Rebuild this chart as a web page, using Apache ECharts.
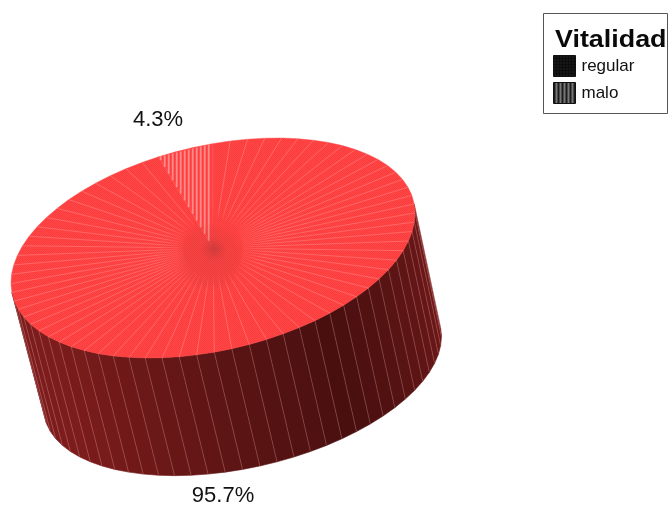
<!DOCTYPE html>
<html>
<head>
<meta charset="utf-8">
<style>html,body{margin:0;padding:0;background:#fff}#main{width:671px;height:509px}</style>
<script src="https://cdn.jsdelivr.net/npm/echarts@6/dist/echarts.min.js"></script>
</head>
<body>
<div id="main"></div>
<script>
// Values of the pie, in percent
var categories = ['regular', 'malo'];
var shares = [95.7, 4.3];
var legendTitle = 'Vitalidad';

// Tiled swatch fills for the legend
function tile(w, h, paint) {
  var c = document.createElement('canvas');
  c.width = w; c.height = h;
  paint(c.getContext('2d'));
  return { image: c, repeat: 'repeat' };
}
var dottedFill = tile(3, 3, function (g) {
  g.fillStyle = '#0c0c0c'; g.fillRect(0, 0, 3, 3);
  g.fillStyle = '#3a3a3a'; g.fillRect(1, 1, 1, 1);
});
var stripedFill = tile(4, 2, function (g) {
  g.fillStyle = '#777'; g.fillRect(0, 0, 4, 2);
  g.fillStyle = '#1c1c1c'; g.fillRect(0, 0, 2, 2);
});
// Fine dither over the top face
var topFill = tile(2, 2, function (g) {
  g.fillStyle = '#ff4646'; g.fillRect(0, 0, 2, 2);
  g.fillStyle = '#fc3d3d'; g.fillRect(0, 0, 1, 1); g.fillRect(1, 1, 1, 1);
});

// Projection of the tilted disc
var tilt = -13 * Math.PI / 180;
var axisA = [Math.cos(tilt), Math.sin(tilt)];
var axisB = [-Math.sin(tilt), Math.cos(tilt)];
var topFace = { cx: 213, cy: 248, a: 206, b: 102.4 };
var baseFace = { cx: 242.5, cy: 372, a: 203, b: 95.5 };
var facetDeg = 5;
var backAngle = -91.3;      // the small slice is centred here

function project(face, deg) {
  var t = deg * Math.PI / 180;
  var u = face.a * Math.cos(t), v = face.b * Math.sin(t);
  return [face.cx + u * axisA[0] + v * axisB[0], face.cy + u * axisA[1] + v * axisB[1]];
}
function sliceRange(index) {
  var total = shares.reduce(function (s, v) { return s + v; }, 0);
  var small = shares[1] / total * 360;
  if (index === 1) return [backAngle - small / 2, backAngle + small / 2];
  return [backAngle + small / 2, backAngle + 360 - small / 2];
}
function lerpRgb(p, q, k) {
  return 'rgb(' + p.map(function (c, i) { return Math.round(c + (q[i] - c) * k); }).join(',') + ')';
}
// Side colour: darkest right of front, lifting towards both silhouette edges
function sideColour(deg) {
  var d = deg;
  while (d > 180) d -= 360;
  while (d < -180) d += 360;
  var k = Math.min(1, Math.abs(d - 62) / (d > 62 ? 85 : 75));
  return lerpRgb([72, 15, 15], [124, 28, 28], k);
}

function buildSlice(index) {
  var range = sliceRange(index);
  var steps = Math.max(1, Math.round((range[1] - range[0]) / facetDeg));
  var step = (range[1] - range[0]) / steps;
  var kids = [], i, a0, a1;
  var rim = [];
  for (i = 0; i <= steps; i++) rim.push(range[0] + i * step);

  // Side wall, visible facets only
  for (i = 0; i < steps; i++) {
    a0 = rim[i]; a1 = rim[i + 1];
    var p = [project(topFace, a0), project(topFace, a1), project(baseFace, a1), project(baseFace, a0)];
    var area = 0;
    for (var n = 0; n < 4; n++) {
      var m = (n + 1) % 4;
      area += p[n][0] * p[m][1] - p[m][0] * p[n][1];
    }
    if (area > 0) continue;
    var col = sideColour((a0 + a1) / 2);
    kids.push({ type: 'polygon', shape: { points: p }, style: { fill: col, stroke: col, lineWidth: 0.6 } });
    kids.push({ type: 'line', shape: { x1: p[0][0], y1: p[0][1], x2: p[3][0], y2: p[3][1] },
      style: { stroke: 'rgba(255,190,190,0.24)', lineWidth: 1 } });
  }

  // Top face
  var outline = [[topFace.cx, topFace.cy]];
  rim.forEach(function (a) { outline.push(project(topFace, a)); });
  kids.push({ type: 'polygon', shape: { points: outline }, style: { fill: topFill, stroke: '#fb4040', lineWidth: 0.4 } });

  if (index === 0) {
    // Spokes on the large slice, softened just where they meet the hub
    rim.forEach(function (a) {
      var e = project(topFace, a);
      var dx = e[0] - topFace.cx, dy = e[1] - topFace.cy;
      var inner = 30 / Math.sqrt(dx * dx + dy * dy);
      var sx = topFace.cx + dx * inner, sy = topFace.cy + dy * inner;
      kids.push({ type: 'line', shape: { x1: sx, y1: sy, x2: e[0], y2: e[1] }, style: {
        lineWidth: 0.9,
        stroke: { type: 'linear', global: true, x: sx, y: sy, x2: e[0], y2: e[1], colorStops: [
          { offset: 0, color: 'rgba(255,150,150,0.1)' },
          { offset: 0.15, color: 'rgba(255,150,150,0.45)' },
          { offset: 1, color: 'rgba(255,150,150,0.5)' }] }
      } });
    });
  } else {
    // Vertical stripes clipped to the wedge
    var eL = project(topFace, range[0]), eR = project(topFace, range[1]);
    for (var x = eL[0] + 2; x < eR[0]; x += 4) {
      var yEdge = eL[1] + (eR[1] - eL[1]) * (x - eL[0]) / (eR[0] - eL[0]);
      var yInner = topFace.cy + (eL[1] - topFace.cy) * (x - topFace.cx) / (eL[0] - topFace.cx);
      kids.push({ type: 'line', shape: { x1: x, y1: yEdge, x2: x, y2: yInner },
        style: { stroke: 'rgba(255,180,180,0.65)', lineWidth: 1.8 } });
    }
  }
  return { type: 'group', children: kids };
}

// Dark smudge at the hub, drawn above both slices
function buildHub() {
  return { type: 'group', children: [
    { type: 'rect', shape: { x: 178, y: 222, width: 64, height: 70, r: 24 }, style: {
      fill: { type: 'radial', x: 0.5, y: 0.5, r: 0.55, colorStops: [
        { offset: 0, color: 'rgba(170,55,55,0.16)' },
        { offset: 0.75, color: 'rgba(170,55,55,0.12)' },
        { offset: 1, color: 'rgba(170,55,55,0)' }] } }, silent: true },
    { type: 'ellipse', shape: { cx: 214, cy: 249, rx: 26, ry: 13 }, style: {
      fill: { type: 'radial', x: 0.5, y: 0.5, r: 0.5, colorStops: [
        { offset: 0, color: 'rgba(130,50,50,0.32)' },
        { offset: 1, color: 'rgba(170,50,50,0)' }] } }, silent: true }
  ] };
}

var labelStyle = { font: '22px "Liberation Sans", Arial, sans-serif', fill: '#111', align: 'center', verticalAlign: 'middle' };

var option = {
  animation: false,
  backgroundColor: '#ffffff',
  legend: {
    orient: 'vertical', left: 548, top: 50, itemWidth: 22, itemHeight: 21, itemGap: 5,
    selectedMode: false,
    textStyle: { fontFamily: '"Liberation Sans", Arial, sans-serif', fontSize: 17, color: '#111', padding: [0, 0, 0, 1] },
    data: [
      { name: categories[0], icon: 'rect', itemStyle: { color: dottedFill, borderColor: '#111', borderWidth: 1 } },
      { name: categories[1], icon: 'rect', itemStyle: { color: stripedFill, borderColor: '#111', borderWidth: 1 } }
    ]
  },
  graphic: [
    { type: 'rect', z: -1, shape: { x: 543.5, y: 13.5, width: 124, height: 100 }, style: { fill: '#fff', stroke: '#555', lineWidth: 1 } },
    { type: 'text', x: 555, y: 28, scaleX: 1.12, style: { text: legendTitle, font: 'bold 24px "Liberation Sans", Arial, sans-serif', fill: '#0a0a0a' } }
  ],
  series: [
    {
      name: categories[0], type: 'custom', coordinateSystem: 'none', z: 2,
      data: [shares[0]], itemStyle: { color: '#ff4040' },
      renderItem: function () {
        var g = buildSlice(0);
        g.children.push({ type: 'text', x: 223, y: 496, style: Object.assign({ text: shares[0].toFixed(1) + '%' }, labelStyle) });
        return g;
      }
    },
    {
      name: categories[1], type: 'custom', coordinateSystem: 'none', z: 3,
      data: [shares[1]], itemStyle: { color: '#ff4040' },
      renderItem: function () {
        var g = buildSlice(1);
        g.children.push(buildHub());
        g.children.push({ type: 'text', x: 158, y: 120, style: Object.assign({ text: shares[1].toFixed(1) + '%' }, labelStyle) });
        return g;
      }
    }
  ]
};

echarts.init(document.getElementById('main')).setOption(option);
</script>
</body>
</html>
